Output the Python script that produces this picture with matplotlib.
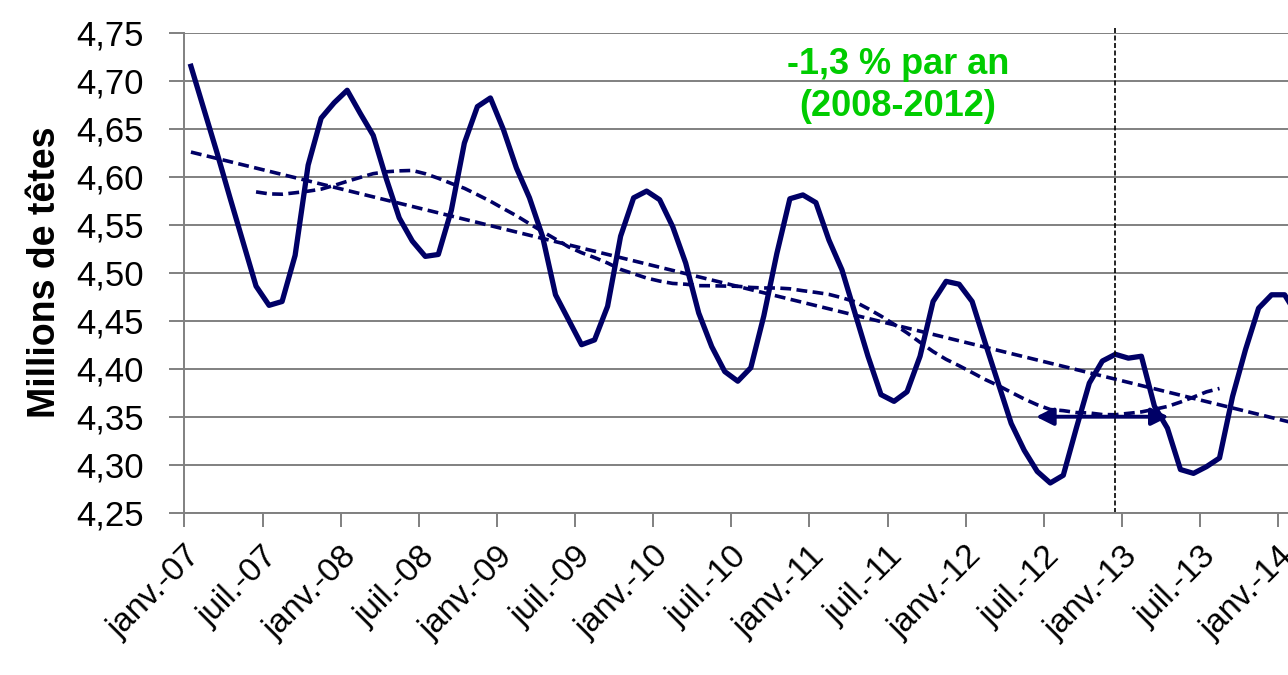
# Cheptel - évolution mensuelle du nombre de têtes
# janv.-07 -> févr.-14, moyenne mobile 12 mois et tendance linéaire

import matplotlib
matplotlib.use("Agg")
import matplotlib.pyplot as plt
import numpy as np
import pandas as pd

plt.rcParams['font.family'] = ['Liberation Sans', 'DejaVu Sans']

# Millions de têtes, un point par mois à partir de janv.-07
tetes = [4.715, 4.670, 4.625, 4.578, 4.532, 4.486, 4.466, 4.470, 4.518, 4.612,
         4.661, 4.677, 4.690, 4.666, 4.643, 4.598, 4.557, 4.533, 4.517, 4.519,
         4.565, 4.635, 4.673, 4.682, 4.649, 4.609, 4.578, 4.538, 4.477, 4.451,
         4.425, 4.430, 4.465, 4.538, 4.578, 4.585, 4.576, 4.548, 4.510, 4.458,
         4.423, 4.397, 4.387, 4.401, 4.455, 4.520, 4.577, 4.581, 4.573, 4.534,
         4.503, 4.458, 4.413, 4.373, 4.366, 4.376, 4.413, 4.470, 4.491, 4.488,
         4.470, 4.427, 4.385, 4.343, 4.315, 4.293, 4.281, 4.289, 4.338, 4.385,
         4.408, 4.415, 4.411, 4.413, 4.361, 4.338, 4.295, 4.291, 4.298, 4.307,
         4.371, 4.420, 4.463, 4.477, 4.477, 4.455]
mois = np.arange(len(tetes))

tick_labels = ["janv.-07", "juil.-07", "janv.-08", "juil.-08", "janv.-09",
               "juil.-09", "janv.-10", "juil.-10", "janv.-11", "juil.-11",
               "janv.-12", "juil.-12", "janv.-13", "juil.-13", "janv.-14"]
y_ticks = [4.25, 4.30, 4.35, 4.40, 4.45, 4.50, 4.55, 4.60, 4.65, 4.70, 4.75]

# Flèche -1,3 %/an et repère déc.-12
fleche_x = [64.9, 75.1]
fleche_y = 4.35
repere_x = 71
note = "-1,3 % par an\n(2008-2012)"

# Moyenne mobile 12 mois (centrée) et tendance linéaire
serie = pd.Series(tetes, index=mois)
moy_mobile = serie.rolling(12).mean().shift(-6)
coef = np.polyfit(mois, tetes, 1)
tendance = np.polyval(coef, mois)

navy = "#000066"
gris = "#808080"

fig = plt.figure(figsize=(12.88, 6.75), dpi=100)
ax = fig.add_axes([0.1432, 0.2404, 0.8568, 0.7112])

ax.plot(mois, tendance, color=navy, lw=2.6, dashes=(3, 1.5))
ax.plot(mois, moy_mobile, color=navy, lw=2.6, dashes=(3, 1.5))
ax.plot(mois, tetes, color=navy, lw=3.8, solid_joinstyle='round')

ax.annotate("", xy=(fleche_x[0], fleche_y), xytext=(fleche_x[1], fleche_y),
            arrowprops=dict(arrowstyle="<|-|>", color=navy, lw=2.8,
                            mutation_scale=26, shrinkA=0, shrinkB=0))

ax.plot([repere_x, repere_x], [4.25, 4.755], color="black", lw=1.2,
        dashes=(3, 1.5), clip_on=False)

ax.text(54.3, 4.695, note, color="#00CC00", fontsize=26, fontweight='bold',
        ha='center', va='center', linespacing=1.25)

ax.set_xlim(-0.5, 84.26)
ax.set_ylim(4.25, 4.75)

ax.set_yticks(y_ticks)
ax.set_yticklabels([f"{v:.2f}".replace(".", ",") for v in y_ticks])
ax.set_xticks(np.arange(len(tick_labels)) * 6 - 0.5)
ax.set_xticklabels(tick_labels, rotation=45, ha='right', rotation_mode='anchor')

ax.yaxis.grid(True, color=gris, lw=1.4)
ax.set_axisbelow(True)
for s in ["top", "right"]:
    ax.spines[s].set_visible(False)
for s in ["left", "bottom"]:
    ax.spines[s].set_color(gris)
    ax.spines[s].set_linewidth(1.4)

ax.tick_params(axis='y', length=11, width=1.4, color=gris, labelsize=25, pad=18)
ax.tick_params(axis='x', length=10, width=1.4, color=gris, labelsize=24, pad=10)

ax.set_ylabel("Millions de têtes", fontsize=27, fontweight='bold', labelpad=10)

fig.savefig("out.png", dpi=100)
